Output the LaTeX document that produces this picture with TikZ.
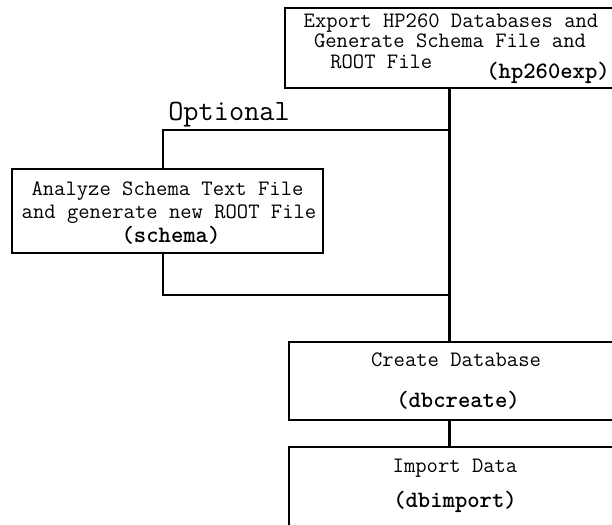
\documentclass[tikz,border=0pt]{standalone}
\usepackage{fontspec}
\usetikzlibrary{positioning}

\begin{document}
\begin{tikzpicture}[x=1pt,y=-1pt, line width=2.6pt,
        box/.style={draw, rectangle, inner sep=0pt},
        txt/.style={anchor=base, inner sep=0pt, font=\fontsize{22}{24}\ttfamily},
        cmd/.style={anchor=base, inner sep=0pt, font=\fontsize{23.5}{26}\ttfamily\bfseries},
        optlabel/.style={anchor=base west, inner sep=0pt, font=\fontsize{29.5}{32}\ttfamily}]
                \clip (0,0) rectangle (612,524);
                \fill[white] (0,0) rectangle (612,524);
                % boxes
                \node[box, minimum width=332pt, minimum height=80pt] (export) at (451,48) {};
                \node[box, minimum width=311pt, minimum height=84pt] (schema) at (167.5,211) {};
                \node[box, minimum width=332pt, minimum height=78pt] (create) at (455,381) {};
                \node[box, minimum width=332pt, minimum height=110pt] (import) at (455,502) {};
                % texts
                \node[txt] (exp1) at (451,28) {Export HP260 Databases and};
                \node[txt] (exp2) at (450,48) {Generate Schema File and};
                \node[txt, anchor=base west] (exp3) at (329,69) {ROOT File};
                \node[cmd, anchor=base east] (expcmd) at (611,79) {(hp260exp)};
                \node[txt] (sch1) at (167.5,195) {Analyze Schema Text File};
                \node[txt] (sch2) at (169,218) {and generate new ROOT File};
                \node[cmd] (schcmd) at (171,242) {(schema)};
                \node[txt] (cre1) at (456,366) {Create Database};
                \node[cmd] (crecmd) at (458,407) {(dbcreate)};
                \node[txt] (imp1) at (455,472) {Import Data};
                \node[cmd] (impcmd) at (455,507) {(dbimport)};
                % connectors
                \coordinate (trunk) at (449.5,0);
                \coordinate (branch) at (163,0);
                \coordinate (split) at (449.5,130);
                \coordinate (join) at (449.5,295);
                \draw (export.south -| trunk)--(create.north -| trunk);
                \draw (create.south -| trunk)--(import.north -| trunk);
                \draw (split) -| (schema.north -| branch);
                \draw (schema.south -| branch) |- (join);
                \node[optlabel] (opt) at (167,121) {Optional};
            \end{tikzpicture}
\end{document}
